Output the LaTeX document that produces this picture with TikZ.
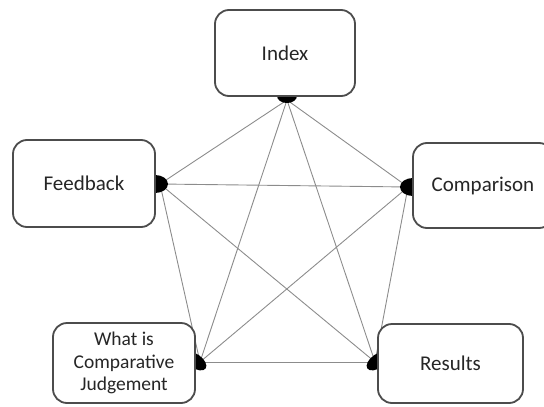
\documentclass[tikz,border=0pt]{standalone}
\usepackage{fontspec}
\setmainfont{Carlito}
\begin{document}
\begin{tikzpicture}[x=1pt,y=-1pt,
  box/.style={draw=black!70, line width=1.8pt, fill=white, rounded corners=14pt,
    inner sep=0pt, align=center, text=black!85, font=\fontsize{21}{24}\selectfont},
  link/.style={draw=black!45, line width=0.9pt},
  joint/.style={fill=black}]
\useasboundingbox (0,0) rectangle (544,407);
% connection points
\coordinate (pI) at (287,100);
\coordinate (pF) at (160,184);
\coordinate (pC) at (408,187);
\coordinate (pW) at (200,362);
\coordinate (pR) at (375,362);
% links (complete graph)
\draw[link] (pI) -- (pF);
\draw[link] (pI) -- (pC);
\draw[link] (pI) -- (pW);
\draw[link] (pI) -- (pR);
\draw[link] (pF) -- (pC);
\draw[link] (pF) -- (pW);
\draw[link] (pF) -- (pR);
\draw[link] (pC) -- (pW);
\draw[link] (pC) -- (pR);
\draw[link] (pW) -- (pR);
% joints
\fill[joint] (287,96) ellipse [x radius=10, y radius=7];
\fill[joint] (155,184) ellipse [x radius=13, y radius=9];
\fill[joint] (413,187) ellipse [x radius=13, y radius=9];
\fill[joint, rotate around={-35:(195,361)}] (195,361) ellipse [x radius=13, y radius=7];
\fill[joint, rotate around={35:(378,361)}] (378,361) ellipse [x radius=13, y radius=7];
% boxes
\node[box, minimum width=140pt, minimum height=86pt] (index) at (285,53) {Index};
\node[box, minimum width=142pt, minimum height=87pt] (feedback) at (84,183.5) {Feedback};
\node[box, minimum width=140pt, minimum height=85pt] (comparison) at (483,185.5) {Comparison};
\node[box, minimum width=142pt, minimum height=80pt, font=\fontsize{19.5}{22.5}\selectfont] (wicj) at (124,363) {What is\\Comparative\\Judgement};
\node[box, minimum width=145pt, minimum height=79pt] (results) at (450.5,363.5) {Results};
\end{tikzpicture}
\end{document}
